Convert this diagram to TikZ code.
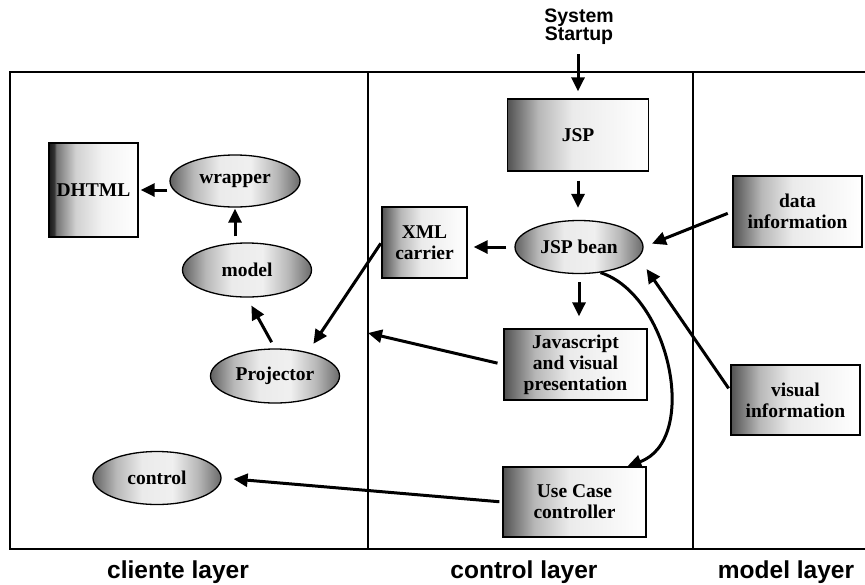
\documentclass[tikz,border=0pt]{standalone}
\usepackage{fontspec}
\setmainfont{Liberation Serif}
\newfontfamily\labelfont{Liberation Sans}
\usetikzlibrary{arrows.meta,shapes.geometric}

% left-dark gradient for the rectangular components
\pgfdeclarehorizontalshading{boxshade}{100bp}{color(0bp)=(black!68); color(25bp)=(black!68); color(36bp)=(black!28); color(48bp)=(black!8); color(75bp)=(white); color(100bp)=(white)}
% almost black edge strip, then the same fade
\pgfdeclarehorizontalshading{stripshade}{100bp}{color(0bp)=(black!90); color(25bp)=(black!90); color(28bp)=(black!80); color(29bp)=(black!55); color(40bp)=(black!18); color(55bp)=(black!5); color(75bp)=(white); color(100bp)=(white)}
% grey at both ends of the ovals, light in the middle
\pgfdeclarehorizontalshading{ovalshade}{100bp}{color(0bp)=(black!62); color(25bp)=(black!62); color(34bp)=(black!28); color(44bp)=(black!8); color(56bp)=(black!6); color(66bp)=(black!28); color(75bp)=(black!58); color(100bp)=(black!58)}

\tikzset{
  nodetext/.style={font=\fontsize{19.5}{21}\selectfont\bfseries, align=center, text=black},
  compbox/.style={rectangle, draw, line width=1.3pt, shade, shading=boxshade, inner sep=0pt, nodetext},
  oval/.style={ellipse, draw, line width=1.3pt, shade, shading=ovalshade, inner sep=0pt, nodetext},
  arr/.style={line width=3pt, -{Triangle[length=14pt,width=13pt]}},
  layerline/.style={line width=2.2pt},
  layerlabel/.style={font=\labelfont\fontsize{24.5}{26}\selectfont\bfseries}
}

\begin{document}
\begin{tikzpicture}[x=1pt, y=-1pt]
\useasboundingbox (0,0) rectangle (865,584);

% layer frame and dividers
\draw[layerline] (865,72) -- (10,72) -- (10,549) -- (865,549);
\draw[layerline] (368,72) -- (368,549);
\draw[layerline] (693,72) -- (693,549);
\coordinate (divpt) at (368,333);

% client layer
\node[compbox, shading=stripshade, minimum width=89pt, minimum height=94pt] (dhtml) at (93.5,190) {DHTML};
\node[oval, minimum width=130pt, minimum height=52pt] (wrapper) at (235,181) {wrapper};
\node[oval, minimum width=129pt, minimum height=54pt] (model) at (247,270) {model};
\node[oval, minimum width=129pt, minimum height=54pt] (projector) at (275,376) {Projector};
\node[oval, minimum width=128pt, minimum height=53pt] (control) at (157,478) {control};

% control layer
\node[font=\labelfont\fontsize{19.5}{18}\selectfont\bfseries, align=center, inner sep=0pt] (startup) at (579,27) {System\\Startup};
\node[compbox, minimum width=141pt, minimum height=72pt] (jsp) at (578,135) {JSP};
\node[oval, minimum width=128pt, minimum height=53pt] (bean) at (579,247) {JSP bean};
\node[compbox, minimum width=85pt, minimum height=71pt] (xml) at (424.5,242.5) {XML\\carrier};
\node[compbox, minimum width=143pt, minimum height=71pt] (js) at (575.5,364.5) {Javascript\\and visual\\presentation};
\node[compbox, minimum width=143pt, minimum height=70pt] (usecase) at (574.5,502) {Use Case\\controller};

% model layer
\node[compbox, minimum width=129pt, minimum height=71pt] (data) at (797.5,211.5) {data\\information};
\node[compbox, minimum width=129pt, minimum height=70pt] (visual) at (795.5,400) {visual\\information};

% connectors
\draw[arr, shorten <=9pt, shorten >=7pt] (startup.south -| jsp.north) -- (jsp.north);
\draw[arr, shorten <=9pt, shorten >=12pt] (jsp.south) -- (jsp.south |- bean.north);
\draw[arr, shorten <=8pt, shorten >=6pt] (bean.west) -- (bean.west -| xml.east);
\draw[arr, shorten <=8pt, shorten >=12pt] (bean.south) -- (bean.south |- js.north);
\draw[arr, shorten <=2pt, shorten >=2pt] (dhtml.east -| wrapper.west) -- (dhtml.east);
\draw[arr, shorten <=6pt, shorten >=1pt] (wrapper.south |- model.north) -- (wrapper.south);
\draw[arr, shorten <=7pt, shorten >=9pt] (projector.north) -- (model.south);
\draw[arr, shorten <=1pt, shorten >=10pt] (xml.west) -- (projector.36);
\draw[arr, shorten <=6pt] (js.west) -- (divpt);
\draw[arr, shorten <=5pt, shorten >=9pt] (data.west) -- (bean.east);
\draw[arr, shorten <=3pt, shorten >=14pt] (visual.172) -- (bean.-10);
\draw[arr, shorten <=3pt, shorten >=12pt] (usecase.west) -- (control.east);
\draw[arr] (bean.-50) .. controls (670,295) and (700,440) .. (usecase.34);

% layer captions
\node[layerlabel] (cl) at (178,572) {cliente layer};
\node[layerlabel] (ctl) at (524,572) {control layer};
\node[layerlabel] (ml) at (786,572) {model layer};
\end{tikzpicture}
\end{document}
